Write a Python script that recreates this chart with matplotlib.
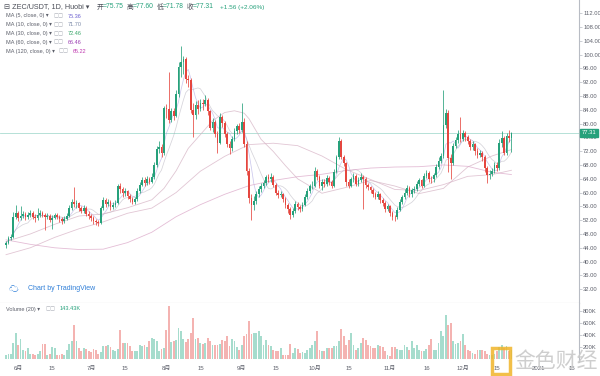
import numpy as np
import pandas as pd
import matplotlib
matplotlib.use("Agg")
import matplotlib.pyplot as plt
import matplotlib.dates as mdates

plt.rcParams['font.family'] = ['Liberation Sans', 'Noto Sans CJK SC', 'DejaVu Sans']

# ZEC/USDT daily, Huobi, 2020-05-27 .. 2020-12-21
start = "2020-05-27"
open0 = 44.8
close = [45.5, 46.8, 47.0, 53.0, 54.0, 52.5, 53.2, 53.8, 52.8, 53.5,
         54.2, 53.0, 52.6, 53.4, 54.0, 53.6, 52.8, 53.2, 52.0, 52.6,
         53.4, 53.0, 52.2, 51.8, 52.4, 53.2, 55.5, 57.2, 56.6, 57.0,
         55.4, 54.8, 55.6, 53.9, 53.2, 52.6, 51.8, 51.4, 51.2, 55.5,
         57.8, 56.6, 57.4, 55.9, 56.3, 57.0, 61.8, 61.0, 59.8, 60.4,
         59.0, 58.2, 57.3, 58.0, 60.5, 62.2, 63.6, 62.8, 63.8, 63.2,
         64.5, 68.0, 72.5, 73.3, 71.4, 84.5, 84.2, 81.0, 83.5, 82.2,
         88.5, 96.5, 97.8, 98.6, 93.0, 92.5, 84.0, 82.5, 85.5, 84.3,
         86.0, 85.6, 86.8, 83.5, 78.8, 80.4, 77.0, 74.5, 82.0, 80.2,
         77.0, 74.0, 72.8, 75.5, 77.8, 79.2, 78.0, 80.5, 74.0, 66.3,
         58.5, 56.4, 57.5, 59.5, 61.0, 62.0, 62.8, 64.4, 63.8, 64.5,
         62.2, 60.0, 59.2, 59.6, 58.0, 56.5, 55.2, 53.5, 54.8, 56.8,
         55.8, 55.2, 56.5, 58.8, 60.5, 61.8, 62.0, 66.3, 64.5, 62.0,
         63.2, 62.5, 64.2, 63.0, 62.0, 66.0, 70.3, 75.0, 70.3, 68.5,
         63.0, 62.0, 63.8, 64.8, 62.5, 63.5, 64.5, 63.8, 62.2, 61.5,
         60.8, 59.5, 58.8, 59.6, 57.8, 57.0, 55.2, 56.0, 54.0, 53.0,
         52.8, 55.0, 57.2, 58.6, 60.0, 61.2, 59.5, 60.6, 61.0, 62.5,
         63.5, 62.0, 64.8, 65.8, 64.0, 63.8, 65.0, 67.5, 69.2, 70.5,
         79.5, 83.2, 70.0, 68.6, 73.5, 75.2, 77.0, 75.5, 77.2, 76.0,
         75.0, 73.2, 74.0, 72.0, 71.0, 71.5, 70.2, 67.0, 65.0, 65.5,
         66.3, 68.0, 67.0, 74.5, 75.8, 71.5, 76.4, 75.75, 77.31]
high = [46.0, 47.4, 48.0, 54.5, 56.4, 54.8, 56.0, 54.6, 54.4, 54.3,
        55.0, 54.8, 53.8, 55.4, 54.9, 54.6, 54.2, 54.0, 53.8, 53.4,
        54.2, 54.0, 53.6, 52.8, 53.2, 54.0, 56.4, 58.0, 61.6, 57.8,
        57.4, 56.2, 56.4, 56.0, 54.6, 53.8, 53.2, 52.4, 52.0, 56.2,
        58.6, 58.4, 58.2, 57.8, 57.2, 57.8, 62.6, 62.8, 61.6, 61.2,
        60.8, 59.6, 58.8, 58.8, 61.2, 63.0, 64.4, 64.6, 64.8, 64.6,
        65.6, 69.0, 73.6, 75.0, 74.0, 85.2, 85.6, 95.0, 84.6, 84.4,
        89.6, 97.8, 102.5, 99.6, 99.2, 94.2, 93.2, 86.0, 86.6, 86.8,
        87.2, 87.0, 88.2, 87.4, 84.0, 81.6, 81.0, 77.8, 83.0, 82.6,
        80.8, 77.6, 74.8, 76.4, 78.6, 80.0, 80.2, 86.0, 81.6, 74.8,
        67.0, 59.6, 59.0, 60.4, 61.8, 62.8, 63.6, 65.2, 65.4, 65.6,
        65.0, 62.8, 60.6, 60.4, 60.0, 58.6, 57.0, 55.8, 55.6, 57.6,
        57.4, 56.4, 57.2, 59.6, 61.4, 62.6, 63.4, 67.5, 66.8, 65.0,
        64.0, 64.0, 65.0, 64.8, 63.6, 66.8, 71.0, 76.0, 75.6, 71.0,
        69.0, 63.8, 64.6, 65.8, 65.4, 64.4, 65.6, 65.2, 64.4, 62.8,
        62.0, 61.2, 60.2, 60.4, 60.0, 58.4, 57.6, 56.8, 56.4, 54.6,
        53.6, 55.8, 58.0, 59.4, 61.0, 62.2, 61.8, 61.4, 61.8, 63.4,
        64.2, 64.0, 65.6, 66.6, 66.2, 64.8, 65.8, 68.2, 70.2, 71.4,
        89.7, 84.2, 84.0, 71.2, 74.4, 76.2, 78.0, 82.0, 78.2, 77.8,
        76.6, 75.6, 74.8, 74.4, 72.8, 72.4, 72.0, 70.8, 67.6, 66.6,
        67.2, 68.8, 69.0, 75.4, 77.7, 76.4, 77.2, 78.2, 77.60]
low = [44.0, 45.0, 46.2, 46.8, 52.4, 51.8, 52.0, 52.6, 52.0, 52.2,
       53.0, 52.4, 51.6, 52.0, 53.0, 52.8, 49.2, 52.2, 51.4, 49.4,
       52.2, 52.4, 51.6, 51.0, 51.2, 52.0, 52.8, 55.0, 55.8, 55.6,
       54.6, 54.0, 54.2, 53.2, 52.4, 51.8, 51.0, 50.6, 50.4, 50.8,
       55.0, 55.8, 56.0, 55.0, 55.2, 55.8, 56.6, 60.0, 58.8, 59.0,
       58.2, 57.4, 56.6, 56.8, 57.6, 60.0, 61.8, 62.0, 62.2, 62.4,
       62.8, 64.0, 67.5, 71.6, 70.2, 71.0, 81.6, 80.2, 80.4, 81.0,
       81.8, 87.8, 93.5, 94.5, 91.8, 90.5, 83.0, 76.0, 81.4, 82.8,
       83.6, 84.0, 85.0, 82.6, 78.0, 77.6, 76.0, 71.5, 74.0, 79.0,
       76.2, 73.2, 71.2, 72.0, 74.8, 77.0, 77.2, 77.6, 73.2, 65.2,
       57.0, 52.0, 55.0, 56.8, 58.8, 60.2, 61.4, 62.2, 63.0, 63.2,
       61.6, 59.4, 58.4, 58.6, 57.2, 55.6, 54.2, 52.4, 52.8, 54.2,
       55.0, 54.4, 54.6, 56.0, 58.2, 60.0, 61.0, 61.6, 63.6, 61.2,
       60.6, 61.6, 62.0, 62.2, 61.4, 61.6, 65.6, 69.8, 69.6, 67.6,
       62.0, 61.2, 61.6, 63.2, 61.8, 62.0, 63.0, 55.2, 61.4, 60.6,
       60.0, 58.8, 58.0, 58.2, 57.0, 56.2, 54.4, 54.6, 53.2, 52.0,
       51.8, 52.4, 54.6, 56.8, 58.0, 59.4, 58.6, 58.8, 59.8, 60.4,
       62.0, 61.2, 61.6, 64.2, 63.2, 62.8, 63.2, 64.6, 66.8, 68.6,
       70.0, 78.6, 66.0, 64.0, 68.0, 72.8, 74.4, 74.6, 74.8, 75.0,
       74.0, 72.4, 72.2, 71.0, 70.0, 70.2, 69.2, 66.0, 62.8, 64.0,
       64.8, 65.8, 66.2, 66.6, 73.2, 70.8, 71.0, 74.6, 71.78]
volume_k = [70, 75, 80, 270, 430, 240, 330, 155, 130, 180,
            80, 90, 70, 75, 140, 255, 255, 70, 80, 195,
            190, 70, 70, 85, 70, 150, 250, 305, 560, 300,
            190, 130, 180, 165, 140, 120, 170, 150, 90, 110,
            215, 215, 230, 200, 150, 130, 170, 490, 265, 270,
            270, 220, 130, 130, 135, 240, 220, 240, 200, 300,
            350, 340, 300, 130, 160, 180, 490, 880, 280, 300,
            320, 515, 460, 325, 280, 335, 425, 680, 325, 350,
            265, 255, 260, 350, 300, 240, 240, 235, 250, 320,
            300, 380, 210, 325, 300, 200, 150, 240, 380, 410,
            630, 410, 440, 440, 460, 380, 240, 320, 240, 210,
            150, 140, 130, 180, 70, 70, 70, 255, 100, 180,
            165, 100, 120, 100, 150, 180, 240, 300, 460, 150,
            130, 130, 180, 180, 190, 215, 215, 300, 500, 380,
            240, 320, 430, 240, 150, 180, 265, 350, 320, 240,
            210, 180, 180, 240, 215, 200, 130, 70, 50, 200,
            200, 170, 150, 150, 225, 200, 150, 300, 180, 225,
            150, 130, 130, 170, 240, 330, 150, 150, 265, 460,
            380, 730, 570, 600, 300, 255, 265, 300, 415, 240,
            150, 130, 100, 90, 150, 150, 150, 140, 90, 70,
            70, 80, 140, 200, 230, 180, 220, 140, 143.43]

# long moving averages (day index, value)
ma30_idx = [0, 10, 20, 30, 40, 50, 60, 65, 70, 75, 80, 85, 90, 94, 98, 100, 105,
            110, 115, 120, 130, 140, 150, 160, 170, 180, 190, 200, 208]
ma30_val = [45.8, 48.0, 50.8, 53.2, 53.8, 55.6, 57.9, 61.2, 66.3, 72.8, 76.8, 80.8,
            83.2, 83.7, 83.0, 81.4, 75.4, 71.9, 67.8, 64.0, 59.8, 61.5, 63.5, 61.9,
            59.7, 61.2, 67.4, 70.6, 72.46]
ma60_idx = [0, 10, 20, 30, 40, 50, 60, 70, 80, 90, 100, 110, 120, 130, 140, 150,
            160, 170, 180, 190, 200, 208]
ma60_val = [42.0, 44.0, 47.0, 49.5, 51.5, 54.0, 55.5, 60.0, 66.2, 70.5, 73.9, 74.3,
            73.6, 70.6, 66.7, 63.8, 60.9, 60.6, 62.3, 64.7, 65.2, 66.46]
ma120_idx = [0, 10, 20, 30, 40, 50, 60, 70, 80, 90, 100, 110, 120, 130, 140, 150,
             160, 170, 180, 190, 200, 208]
ma120_val = [46.3, 45.0, 44.0, 43.5, 43.6, 45.5, 48.5, 53.0, 56.5, 59.5, 62.0, 63.5,
             64.6, 65.3, 66.4, 67.1, 67.4, 67.5, 68.0, 67.6, 65.9, 65.22]

UP, DN = "#26a17b", "#e5463f"
VUP, VDN = "#a6dccd", "#f4b3b1"
GRID = "#b8bcc4"
TXT = "#5d606b"

dates = pd.date_range(start, periods=len(close))
x = mdates.date2num(dates)
c = np.array(close)
o = np.r_[open0, c[:-1]]
h = np.array(high); lo = np.array(low)
up = c >= o
cs = pd.Series(c)
ma5 = cs.rolling(5, min_periods=1).mean()
ma10 = cs.rolling(10, min_periods=1).mean()

fig = plt.figure(figsize=(6, 3.76), dpi=100)
W, H = 600, 376
axp = fig.add_axes([0, (H - 303) / H, 579 / W, 303 / H])
axv = fig.add_axes([0, (H - 362) / H, 579 / W, (362 - 303) / H], sharex=axp)

# candles
axp.vlines(x, lo, h, colors=np.where(up, UP, DN), lw=0.55, zorder=3)
axp.bar(x, np.maximum(np.abs(c - o), 0.15), bottom=np.minimum(o, c), width=0.7,
        color=np.where(up, UP, DN), lw=0, zorder=4)

# moving averages
axp.plot(x, ma5, color="#8f86d8", lw=0.55, alpha=0.45, zorder=2)
axp.plot(x, ma10, color="#a4a0ae", lw=0.55, alpha=0.45, zorder=2)
axp.plot(x[ma30_idx], ma30_val, color="#d5b3c4", lw=0.6, alpha=0.75, zorder=2)
axp.plot(x[ma60_idx], ma60_val, color="#d8b3c6", lw=0.6, alpha=0.75, zorder=2)
axp.plot(x[ma120_idx], ma120_val, color="#dba7c8", lw=0.6, alpha=0.75, zorder=2)

# last price line
last = close[-1]
axp.axhline(last, color="#a9dcd1", lw=0.6, zorder=1)

x0 = x[0] - 2.47
x1 = x[0] + 235.8
axp.set_xlim(x0, x1)
axp.set_ylim(28, 115.8)

for ax in (axp, axv):
    ax.set_facecolor("white")
    for s in ("top", "left"):
        ax.spines[s].set_visible(False)
    ax.spines["right"].set_color(GRID)
    ax.spines["right"].set_linewidth(0.8)
    ax.yaxis.tick_right()
    ax.tick_params(axis="y", labelsize=4.2, colors=GRID, labelcolor=TXT,
                   length=2, width=0.5, pad=1)
axp.spines["bottom"].set_color(GRID)
axp.spines["bottom"].set_linewidth(0.8)
axv.spines["bottom"].set_visible(False)

pt = np.arange(32, 113, 4)
axp.set_yticks(pt)
axp.set_yticklabels(["%.2f" % v for v in pt])
axp.tick_params(axis="x", bottom=False, labelbottom=False)

# price tag
axp.annotate("%.2f" % last, xy=(1.0, last), xycoords=("axes fraction", "data"),
             xytext=(2, 0), textcoords="offset points", va="center", ha="left",
             fontsize=4.2, color="white", zorder=10, annotation_clip=False,
             bbox=dict(boxstyle="square,pad=0.3", fc=UP, ec=UP))

# volume
vol = np.array(volume_k) * 1000
axv.bar(x, vol, width=0.75, color=np.where(up, VUP, VDN), lw=0)
axv.set_ylim(-50e3, 933e3)
vt = [200e3, 400e3, 600e3, 800e3]
axv.set_yticks(vt)
axv.set_yticklabels(["%dK" % (v / 1000) for v in vt])

tick_dates = ["2020-06-01", "2020-06-15", "2020-07-01", "2020-07-15", "2020-08-01",
              "2020-08-15", "2020-09-01", "2020-09-15", "2020-10-01", "2020-10-15",
              "2020-11-01", "2020-11-16", "2020-12-01", "2020-12-15", "2021-01-01",
              "2021-01-15"]
tick_labels = ["6月", "15", "7月", "15", "8月", "15", "9月", "15", "10月", "15",
               "11月", "16", "12月", "15", "2021", "15"]
axv.set_xticks(mdates.date2num(pd.to_datetime(tick_dates)))
axv.set_xticklabels(tick_labels)
axv.tick_params(axis="x", labelsize=4.3, labelcolor=TXT, length=0, pad=3)
axv.set_xlim(x0, x1)


def ftext(px, py, s, **kw):
    kw.setdefault("fontsize", 4.3)
    kw.setdefault("color", TXT)
    fig.text(px / W, 1 - py / H, s, va="center", ha="left", **kw)


# header
ftext(4, 7, "⊟ ZEC/USDT, 1D, Huobi ▾", fontsize=5.2, color="#4a4d57")
hx = 97
for lab, val in [("开", "=75.75"), ("高", "=77.60"), ("低", "=71.78"), ("收", "=77.31")]:
    ftext(hx, 7, lab, fontsize=4.9, color="#4a4d57")
    ftext(hx + 6, 7, val, fontsize=4.9, color=UP)
    hx += 30
ftext(220, 7, "+1.56 (+2.06%)", fontsize=4.6, color=UP)

ma_rows = [("MA (5, close, 0) ▾", "75.36", "#6b5fd0"),
           ("MA (10, close, 0) ▾", "71.70", "#7c8aa8"),
           ("MA (30, close, 0) ▾", "72.46", "#3aa66a"),
           ("MA (60, close, 0) ▾", "66.46", "#9b3fb2"),
           ("MA (120, close, 0) ▾", "65.22", "#c03ab0")]
for k, (lab, val, col) in enumerate(ma_rows):
    yy = 16 + 8.8 * k
    ftext(6, yy, lab, fontsize=4.0)
    bx = 53 if k < 4 else 58
    ftext(bx, yy, "◻◻", fontsize=4.3, color="#a8acb5")
    ftext(bx + 15, yy, val, color=col, fontsize=4.0)

ftext(9, 289, "☁", fontsize=7, color="#2f7fd8")
ftext(28, 289, "Chart by TradingView", fontsize=5, color="#2f7fd8")
ftext(6, 309, "Volume (20) ▾", fontsize=4.0)
ftext(45, 309, "◻◻", fontsize=4.3, color="#a8acb5")
ftext(60, 309, "143.43K", fontsize=4.0, color=UP)

# watermark
fig.patches.append(plt.Rectangle((492 / W, 1 - 374 / H), 18 / W, 26 / H,
                                 transform=fig.transFigure, fc="none",
                                 ec="#f0b429", lw=2.5, alpha=0.85))
fig.text(514 / W, 1 - 361 / H, "金色财经", fontsize=15, color="#c9c9c9",
         va="center", ha="left", alpha=0.9)

fig.savefig("out.png", dpi=100)
